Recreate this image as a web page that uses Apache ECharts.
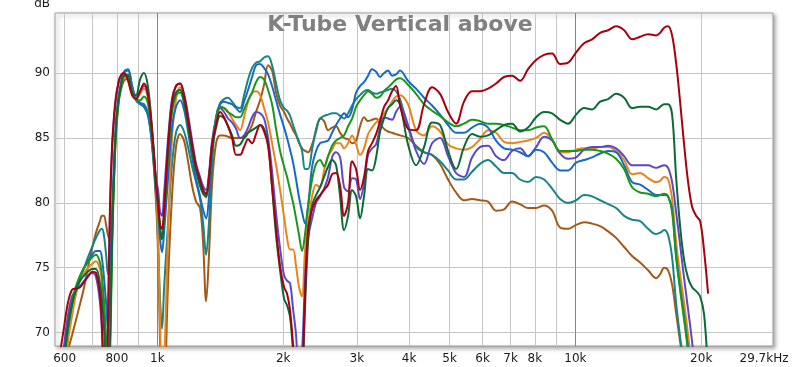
<!DOCTYPE html>
<html><head><meta charset="utf-8">
<script src="https://cdn.jsdelivr.net/npm/echarts@6/dist/echarts.min.js"></script>
<style>html,body{margin:0;padding:0;background:#fff}#c{width:800px;height:367px}</style>
</head><body><div id="c"></div>
<script>
// Frequency grid (Hz) shared by all curves
const freqHz = [572,585,598,611,625,639,653,668,682,698,713,729,
737,745,754,762,770,779,788,796,805,
814,832,851,870,889,909,929,950,971,993,
1004,1015,1026,1038,
1061,1084,1108,1133,1158,1184,1211,1238,1265,
1286,1308,1329,1352,
1382,1413,1444,1476,1509,1543,1577,1612,1648,1685,1722,1761,1800,1840,1881,1923,1966,2010,
2043,2077,2112,2147,2183,2219,2256,2294,
2345,2397,2450,2505,2561,2618,2676,2736,2797,2859,2923,2988,3054,3122,3192,3263,3336,3410,3486,3563,3643,3724,3807,
3978,4158,4345,4541,4745,4959,5182,5415,5659,5914,6181,6460,6751,7055,7373,7706,8053,8416,8796,9193,9607,10040,10492,10965,11459,11975,12515,13079,13668,14284,14928,15601,
15947,16302,16665,17036,17415,17803,18199,18605,19019,19443,19876,20318,20771,21233];

const darkRedDb = [64.5,68.3,70.4,72.3,73.3,73.4,73.5,73.9,74.3,74.7,74.6,73.0,
70.5,66.5,65.0,71.0,79.5,84.3,86.8,88.2,89.1,
89.7,90.0,89.4,88.3,88.0,88.6,89.2,88.3,85.5,81.5,
80.0,78.3,78.0,79.6,
84.5,87.8,89.0,89.2,88.3,86.5,84.5,82.8,81.8,
81.0,80.7,82.0,84.5,
86.0,87.0,86.6,85.9,85.0,83.7,83.7,84.3,84.9,84.6,85.3,86.0,85.5,84.4,81.3,78.0,75.1,73.5,
73.0,71.7,69.0,65.5,63.0,66.0,73.0,78.0,
79.5,80.2,80.6,81.0,81.4,82.2,82.3,81.3,79.0,80.0,83.2,82.6,81.0,82.0,84.0,84.6,85.3,86.3,87.4,87.9,88.6,89.0,87.5,
85.7,85.6,87.6,88.9,88.4,87.0,86.1,87.8,88.6,88.6,88.8,89.2,89.7,89.8,89.4,90.3,91.0,91.4,91.5,90.7,90.8,91.6,92.3,92.6,93.1,93.3,93.6,93.3,92.6,92.8,93.0,92.9,
93.1,93.5,93.6,92.9,90.8,87.8,84.5,81.6,79.7,79.0,78.6,76.3,73.0,null];

const darkGreenDb = [63.0,65.0,68.0,70.5,72.2,73.3,74.0,74.4,74.7,74.9,74.9,73.8,
72.5,70.5,67.0,65.0,69.0,77.0,82.5,85.8,87.6,
88.6,89.8,89.8,88.5,88.3,89.5,90.0,88.9,85.8,81.5,
80.0,78.0,77.2,79.0,
84.0,87.3,88.5,88.7,87.8,86.0,84.0,82.5,81.3,
80.7,80.5,81.8,84.2,
85.8,86.7,86.5,85.9,85.2,84.4,84.5,85.0,85.4,85.6,85.8,86.0,85.7,84.6,81.2,77.5,74.8,72.6,
72.1,71.2,68.5,65.0,63.0,66.0,72.0,77.0,
79.8,80.6,81.2,82.0,82.8,83.3,82.9,80.5,77.9,79.0,81.0,80.5,78.8,80.5,82.6,82.5,83.5,85.5,86.5,87.3,87.6,87.9,87.6,
84.5,82.9,84.3,86.2,86.0,84.0,82.6,84.3,85.3,85.1,85.2,85.6,86.0,86.1,85.5,85.8,86.6,87.0,86.9,86.4,86.1,86.8,87.3,87.2,87.8,88.0,88.4,88.1,87.3,87.4,87.4,87.2,
87.4,87.6,87.6,86.8,82.0,78.2,75.6,74.2,73.5,73.2,72.8,71.4,67.0,62.0];

const greenDb = [62.5,64.5,67.5,70.3,72.4,73.6,74.4,75.0,75.4,75.8,76.0,75.4,
74.3,72.5,69.5,66.5,68.0,76.0,82.0,85.5,87.4,
88.5,89.8,89.9,88.6,88.0,87.9,88.2,87.6,85.3,81.3,
80.0,78.0,77.3,79.0,
83.8,87.0,88.3,88.5,87.7,86.0,84.0,82.5,81.5,
80.9,80.6,82.0,84.5,
86.3,87.4,87.3,87.0,86.8,86.6,86.6,87.2,87.9,88.5,89.3,89.7,89.5,88.7,87.6,85.7,84.0,82.8,
82.0,81.0,80.0,78.8,77.5,76.3,77.6,79.8,
81.8,83.0,83.3,82.8,83.6,84.4,84.8,85.0,85.2,85.9,86.5,87.4,87.9,88.3,88.6,88.4,88.1,88.2,88.6,88.9,89.2,89.5,89.6,
89.1,88.4,87.6,87.1,86.7,86.2,85.9,86.1,86.4,86.3,86.1,86.1,86.0,85.8,85.6,85.6,85.8,85.9,84.9,84.0,84.0,84.0,84.1,84.1,84.0,83.8,83.4,82.6,81.2,80.8,80.7,80.5,
80.6,80.7,80.5,79.3,75.8,73.3,71.0,68.5,65.5,63.0,null,null,null,null];

const blueDb = [62.5,65.0,68.0,70.3,72.2,73.4,74.3,75.0,75.5,76.0,76.3,76.3,
75.7,74.3,72.3,70.3,72.5,78.5,83.2,86.0,87.8,
88.8,90.1,90.3,89.0,88.0,87.7,87.6,86.9,84.8,81.0,
79.5,77.2,76.2,77.8,
82.0,85.8,87.4,87.9,87.2,85.5,83.5,81.8,80.5,
79.5,78.8,80.5,84.0,
86.6,87.6,87.8,87.7,87.6,87.3,87.0,87.8,88.7,89.7,90.6,90.7,90.4,89.9,89.0,87.9,86.8,85.8,
85.0,84.1,83.1,81.8,80.4,79.3,78.4,79.7,
82.8,84.0,84.6,84.7,84.8,85.4,86.0,86.5,86.9,86.6,87.2,88.5,89.0,89.3,89.8,90.3,90.1,89.7,90.0,90.2,89.8,89.9,90.2,
89.4,88.8,88.1,87.5,86.8,86.0,85.4,85.4,85.8,86.1,85.8,84.8,84.2,84.1,83.9,83.6,84.1,83.9,83.1,82.5,82.5,83.1,83.3,83.5,83.8,84.0,83.9,82.9,81.6,81.4,81.0,80.6,
80.6,80.6,80.5,79.5,76.0,73.5,71.3,68.8,66.0,63.0,null,null,null,null];

const purpleDb = [63.5,66.5,69.0,71.3,72.8,73.3,73.6,74.0,74.4,74.6,74.3,72.3,
70.0,66.0,64.5,70.5,79.0,84.0,86.5,88.0,89.0,
89.6,90.0,89.5,88.4,88.1,88.6,89.0,88.2,85.5,81.8,
81.0,79.3,79.0,80.8,
85.0,88.0,89.0,89.2,88.4,86.8,84.8,83.0,82.0,
81.3,81.0,82.3,84.8,
86.5,87.3,87.0,86.5,86.2,85.7,85.0,85.2,85.8,86.6,87.0,86.9,86.5,85.0,82.4,79.2,76.5,74.4,
74.0,73.8,71.8,69.8,66.0,68.5,74.0,77.3,
78.8,80.0,80.5,81.1,82.0,83.5,83.9,83.5,81.2,80.9,81.9,81.8,80.3,81.5,83.7,84.2,84.5,85.8,86.6,86.5,86.4,87.0,87.4,
86.0,84.0,83.0,84.6,85.0,83.6,82.3,82.0,83.5,84.3,84.4,83.6,83.3,84.0,84.2,83.6,84.3,85.1,84.8,83.8,83.4,83.5,84.1,84.3,84.3,84.4,84.2,83.6,82.9,82.9,82.9,82.7,
82.8,82.9,82.7,81.6,79.3,76.8,74.2,71.8,69.3,66.5,63.0,null,null,null];

const orangeDb = [62.5,63.5,66.5,69.3,71.3,73.0,74.0,74.6,75.0,75.3,75.5,74.9,
73.8,71.5,68.5,66.0,69.0,77.0,82.3,85.5,87.5,
88.6,89.6,89.6,88.4,88.0,88.4,88.8,88.0,85.3,81.2,
77.0,71.0,65.0,67.0,
78.0,85.0,88.0,88.9,88.1,86.3,84.3,82.7,81.6,
80.8,80.4,81.8,84.5,
86.3,87.3,87.3,87.0,86.5,86.0,85.6,86.6,87.8,88.5,88.6,88.3,87.3,86.2,84.6,82.9,81.0,78.9,
77.3,76.4,76.4,75.1,73.5,72.8,76.4,78.3,
80.5,81.4,81.2,82.5,83.6,84.1,84.6,84.6,84.2,84.6,85.2,84.5,83.7,84.2,85.3,85.8,86.2,86.5,86.9,87.3,87.8,88.2,88.3,
87.6,85.6,85.2,85.9,85.5,84.5,84.2,84.1,84.3,84.9,85.6,85.4,84.7,84.6,84.7,84.8,85.0,85.4,84.9,83.9,83.9,84.1,84.2,84.2,84.3,84.3,84.0,83.3,82.2,82.3,81.9,81.6,
81.7,82.0,81.8,80.3,77.0,74.5,72.3,69.8,67.0,64.0,null,null,null,null];

const tealDb = [62.0,64.0,67.0,69.8,71.8,73.2,74.2,75.0,75.8,76.6,77.3,77.9,
78.0,77.5,76.0,74.5,75.5,79.0,83.0,86.0,87.7,
88.8,90.0,90.2,89.0,87.9,87.6,87.4,86.7,84.5,80.5,
77.0,72.5,70.3,73.5,
78.5,83.0,85.4,86.0,85.5,84.3,82.8,81.6,80.3,
78.5,76.0,78.5,83.0,
86.6,87.7,88.0,88.1,87.8,87.4,87.3,88.3,89.5,90.4,90.8,90.9,91.2,91.3,90.6,89.2,87.9,87.3,
87.1,86.7,86.0,85.3,84.7,84.0,82.6,82.6,
84.1,85.7,86.5,86.7,86.8,86.9,86.9,86.7,86.5,86.9,87.5,88.0,88.3,88.6,88.7,88.5,88.4,88.5,88.6,88.7,88.8,88.6,88.0,
85.8,84.3,83.9,83.7,83.2,82.5,81.8,81.8,82.4,83.0,83.3,82.8,82.3,82.3,81.8,81.6,82.0,81.8,81.1,80.3,80.0,80.2,80.6,80.5,80.2,79.9,79.6,79.0,78.7,78.6,78.0,77.6,
77.7,77.9,77.5,75.8,72.3,69.7,67.5,65.0,63.0,null,null,null,null,null];

const brownDb = [61.0,62.5,65.5,68.5,69.8,71.0,72.2,73.5,75.0,76.5,77.7,78.6,
79.0,79.0,78.3,77.5,77.2,78.8,82.0,85.2,87.2,
88.4,89.4,89.6,88.6,88.0,87.7,87.4,86.8,84.5,80.0,
76.0,69.0,63.0,64.0,
74.0,80.5,84.3,85.3,84.8,83.2,81.3,80.1,79.6,
77.0,72.4,76.0,81.5,
84.6,85.2,85.2,85.1,85.0,85.0,85.0,85.0,85.4,86.0,87.0,87.9,89.1,90.6,90.2,88.5,87.5,87.0,
86.5,86.1,85.6,85.2,84.6,84.2,84.0,83.9,
84.5,85.5,86.5,86.3,85.6,85.8,85.9,85.4,85.0,84.9,84.6,84.8,85.9,86.6,86.3,86.4,86.5,86.1,85.7,85.5,85.4,85.3,85.2,
85.0,84.4,83.9,83.7,83.0,81.8,80.8,80.2,80.3,80.2,80.1,79.4,79.5,80.1,79.9,79.6,79.6,79.8,79.4,78.1,78.0,78.3,78.5,78.4,78.2,77.8,77.3,76.6,75.9,75.4,74.8,74.2,
74.5,75.0,74.8,73.7,71.5,69.3,67.0,64.5,62.0,null,null,null,null,null];

const seriesNames = ['brown','teal','orange','purple','blue','green','darkGreen','darkRed'];
const seriesColors = ['#a25a16','#178585','#e8841a','#5a48c6','#1868c8','#1a961a','#0b6a36','#a8000f'];
const seriesValues = [brownDb,tealDb,orangeDb,purpleDb,blueDb,greenDb,darkGreenDb,darkRedDb];

const gridHz = [600,700,800,900,1000,2000,3000,4000,5000,6000,7000,8000,9000,10000,20000];
const labelHz = [600,800,1000,2000,3000,4000,5000,6000,7000,8000,10000,20000,29700];
const labelText = ['600','800','1k','2k','3k','4k','5k','6k','7k','8k','10k','20k','29.7kHz'];
const yTicks = [70,75,80,85,90];
const xMinHz = 569, xMaxHz = 29700, yMin = 68.97, yMax = 94.63;

const FONT = 'DejaVu Sans';
const chart = echarts.init(document.getElementById('c'), null, {renderer: 'canvas'});

const lg = Math.log10;
const labelLog = labelHz.map(lg);

chart.setOption({
  animation: false,
  backgroundColor: '#ffffff',
  title: {
    text: 'K-Tube Vertical above', left: 'center', top: 9,
    textStyle: {fontFamily: FONT, fontWeight: 'bold', fontSize: 22, color: '#808080'}
  },
  graphic: [{
    type: 'text', x: 50, y: 4,
    style: {text: 'dB', fontFamily: FONT, fontSize: 12, fill: '#1a1a1a', align: 'right', verticalAlign: 'middle'}
  }],
  grid: {
    left: 55, top: 13, width: 718, height: 333,
    show: true, borderColor: '#a0a0a0', borderWidth: 1, backgroundColor: '#ffffff',
    shadowColor: 'rgba(0,0,0,0.35)', shadowBlur: 4, shadowOffsetX: 2, shadowOffsetY: 2
  },
  xAxis: {
    type: 'value', min: lg(xMinHz), max: lg(xMaxHz),
    axisLine: {show: false},
    axisTick: {show: false, customValues: gridHz.map(lg)},
    splitLine: {show: true, lineStyle: {width: 1,
      color: gridHz.map(f => (f === 1000 || f === 10000) ? '#858585' : '#c6c6c6')}},
    axisLabel: {
      customValues: labelLog, margin: 7, fontFamily: FONT, fontSize: 12, color: '#1a1a1a',
      formatter: v => {
        let best = 0;
        for (let i = 1; i < labelLog.length; i++) if (Math.abs(labelLog[i] - v) < Math.abs(labelLog[best] - v)) best = i;
        return best === labelLog.length - 1 ? '{e|' + labelText[best] + '}' : labelText[best];
      },
      rich: {e: {fontFamily: FONT, fontSize: 12, color: '#1a1a1a', padding: [0, 18, 0, 0]}}
    }
  },
  yAxis: {
    type: 'value', min: yMin, max: yMax,
    axisLine: {show: false},
    axisTick: {show: false, customValues: yTicks},
    splitLine: {show: true, lineStyle: {color: '#c6c6c6', width: 1}},
    axisLabel: {customValues: yTicks, margin: 5, fontFamily: FONT, fontSize: 12, color: '#1a1a1a'}
  },
  series: seriesNames.map((n, k) => ({
    type: 'line', name: n, symbol: 'none', smooth: 0.35, clip: true,
    lineStyle: {width: 2, color: seriesColors[k]}, itemStyle: {color: seriesColors[k]},
    data: freqHz.map((f, i) => [lg(f), seriesValues[k][i] == null ? null : seriesValues[k][i]])
  }))
});
</script></body></html>
